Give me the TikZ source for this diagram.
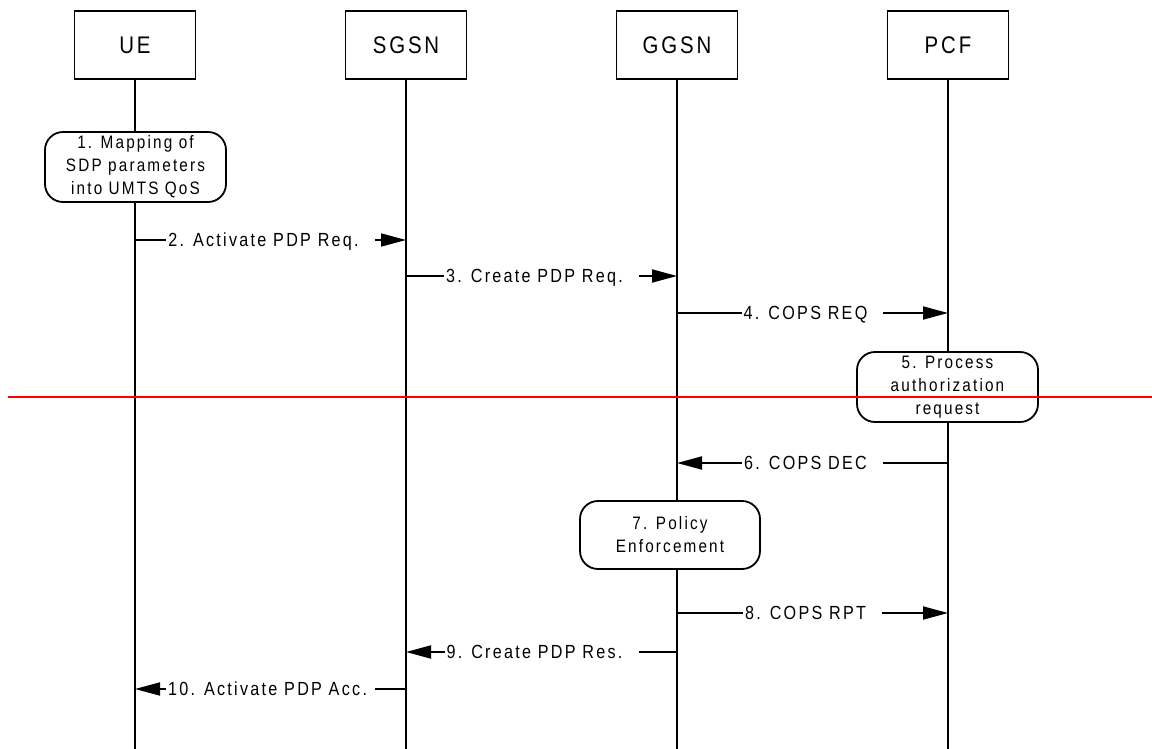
\documentclass[tikz,border=0pt]{standalone}
\usepackage{fontspec}
\setmainfont{Liberation Sans}[FakeStretch=0.85,LetterSpace=12]
\usetikzlibrary{arrows.meta}
\newcommand{\tailgap}{\kern14pt}
\begin{document}
\begin{tikzpicture}[x=1pt,y=-1pt,
  entity/.style={draw,line width=1.8pt,minimum width=121pt,minimum height=68pt,inner sep=0pt,font=\fontsize{24}{28}\selectfont},
  action/.style={draw,line width=1.8pt,rounded corners=18pt,minimum width=181pt,minimum height=70pt,inner sep=0pt,align=center,font=\fontsize{18}{23}\selectfont},
  life/.style={line width=1.8pt},
  msg/.style={line width=1.8pt,-{Triangle[length=25pt,width=13pt]}},
  msglabel/.style={fill=white,inner xsep=2pt,inner ysep=0pt,anchor=base,yshift=-6.8pt,font=\fontsize{19}{22}\selectfont},
  cut/.style={red,line width=2pt}
]
\useasboundingbox (0,0) rectangle (1152,749);

% participants
\node[entity] (ue)   at (135,45) {UE};
\node[entity] (sgsn) at (406,45) {SGSN};
\node[entity] (ggsn) at (677,45) {GGSN};
\node[entity] (pcf)  at (948,45) {PCF};

% lifeline ends
\coordinate (ueEnd)   at (135,749);
\coordinate (sgsnEnd) at (406,749);
\coordinate (ggsnEnd) at (677,749);
\coordinate (pcfEnd)  at (948,749);

% local actions
\node[action] (a1) at (135.5,167) {1. Mapping of\\SDP parameters\\into UMTS QoS};
\node[action] (a5) at (947.5,387) {5. Process\\authorization\\request};
\node[action,minimum width=180pt,minimum height=68pt] (a7) at (670,535) {7. Policy\\Enforcement};

% lifelines (kept vertical, broken by the action boxes)
\draw[life] (ue.south) -- (ue.south |- a1.north);
\draw[life] (ue.south |- a1.south) -- (ueEnd);
\draw[life] (sgsn.south) -- (sgsnEnd);
\draw[life] (ggsn.south) -- (ggsn.south |- a7.north);
\draw[life] (ggsn.south |- a7.south) -- (ggsnEnd);
\draw[life] (pcf.south) -- (pcf.south |- a5.north);
\draw[life] (pcf.south |- a5.south) -- (pcfEnd);

% message end points
\coordinate (m2a) at (135,240);  \coordinate (m2b) at (406,240);
\coordinate (m3a) at (406,276);  \coordinate (m3b) at (677,276);
\coordinate (m4a) at (677,313);  \coordinate (m4b) at (948,313);
\coordinate (m6a) at (948,463);  \coordinate (m6b) at (677,463);
\coordinate (m8a) at (677,613);  \coordinate (m8b) at (948,613);
\coordinate (m9a) at (677,652);  \coordinate (m9b) at (406,652);
\coordinate (m10a) at (406,689); \coordinate (m10b) at (135,689);

% messages
\draw[msg] (m2a) -- node[msglabel] {2. Activate PDP Req.\tailgap} (m2b);
\draw[msg] (m3a) -- node[msglabel] {3. Create PDP Req.\tailgap} (m3b);
\draw[msg] (m4a) -- node[msglabel] {4. COPS REQ\tailgap} (m4b);
\draw[msg] (m6a) -- node[msglabel] {6. COPS DEC\tailgap} (m6b);
\draw[msg] (m8a) -- node[msglabel] {8. COPS RPT\tailgap} (m8b);
\draw[msg] (m9a) -- node[msglabel] {9. Create PDP Res.\tailgap} (m9b);
\draw[msg] (m10a) -- node[msglabel] {10. Activate PDP Acc.\kern6pt} (m10b);

% horizontal cut line
\coordinate (cutL) at (8,397);
\coordinate (cutR) at (1152,397);
\draw[cut] (cutL) -- (cutR);
\end{tikzpicture}
\end{document}
